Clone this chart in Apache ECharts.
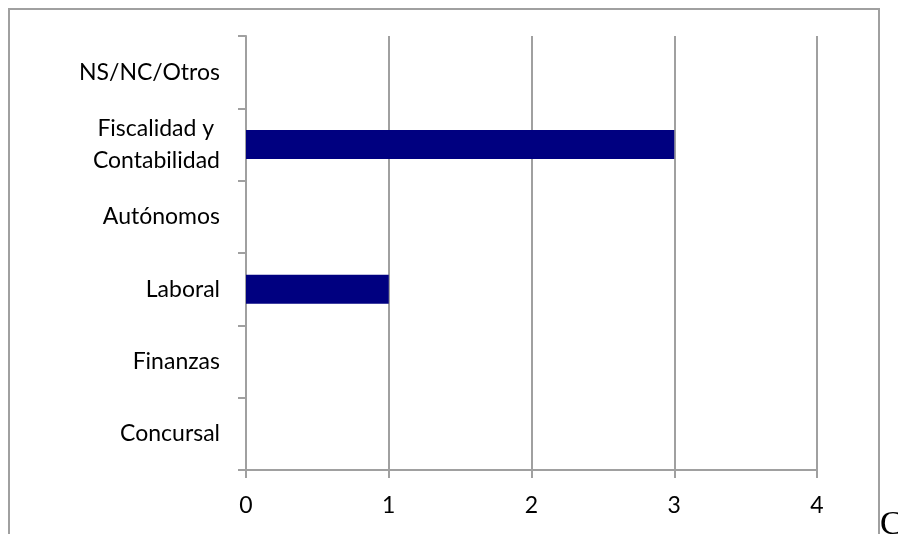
<!DOCTYPE html>
<html>
<head>
<meta charset="utf-8">
<script src="https://cdn.jsdelivr.net/npm/echarts@6/dist/echarts.min.js"></script>
<style>
html,body{margin:0;padding:0;background:#fff;}
#chart{width:898px;height:534px;}
</style>
</head>
<body>
<div id="chart"></div>
<script>
var categories = ['Concursal', 'Finanzas', 'Laboral', 'Autónomos', 'Fiscalidad y \nContabilidad', 'NS/NC/Otros'];
var values = [0, 0, 1, 0, 3, 0];
var xTicks = [0, 1, 2, 3, 4];

var chart = echarts.init(document.getElementById('chart'), null, {renderer: 'canvas'});
var font = 'Lato, "Open Sans", sans-serif';
chart.setOption({
  animation: false,
  backgroundColor: '#ffffff',
  grid: {left: 246, right: 81, top: 36, bottom: 64, containLabel: false},
  xAxis: {
    type: 'value',
    min: xTicks[0],
    max: xTicks[xTicks.length - 1],
    interval: 1,
    axisLine: {show: true, lineStyle: {color: '#a0a0a0', width: 2}},
    axisTick: {show: true, length: 8, lineStyle: {color: '#a0a0a0', width: 2}},
    splitLine: {show: true, lineStyle: {color: '#a0a0a0', width: 2}},
    axisLabel: {color: '#000', fontFamily: font, fontSize: 23, margin: 24}
  },
  yAxis: {
    type: 'category',
    data: categories,
    boundaryGap: true,
    axisLine: {show: true, lineStyle: {color: '#a0a0a0', width: 2}},
    axisTick: {show: true, length: 8, lineStyle: {color: '#a0a0a0', width: 2}},
    splitLine: {show: false},
    axisLabel: {color: '#000', fontFamily: font, fontSize: 23, margin: 26, lineHeight: 32, align: 'right'}
  },
  series: [{
    type: 'bar',
    data: values,
    barWidth: '40%',
    itemStyle: {color: '#000080'}
  }],
  graphic: [
    {type: 'rect', shape: {x: 9, y: 9, width: 870, height: 560}, style: {fill: 'none', stroke: '#a0a0a0', lineWidth: 2}, silent: true},
    {type: 'text', left: 880, top: 508, style: {text: 'C', font: '34px "Liberation Serif", "DejaVu Serif", serif', fill: '#000'}}
  ]
});
</script>
</body>
</html>
